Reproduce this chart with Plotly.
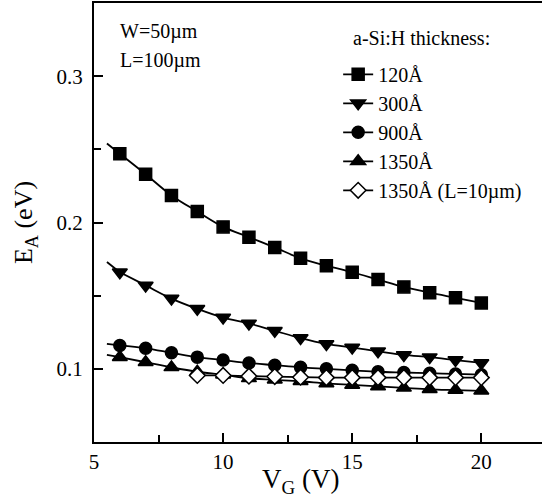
import plotly.graph_objects as go

# Gate voltage (V)
vg = [6, 7, 8, 9, 10, 11, 12, 13, 14, 15, 16, 17, 18, 19, 20]
vg_short = [9, 10, 11, 12, 13, 14, 15, 16, 17, 18, 19, 20]

# Activation energy E_A (eV) for each a-Si:H thickness
ea_120 = [0.247, 0.233, 0.2185, 0.2075, 0.197, 0.190, 0.183, 0.1755, 0.1705,
          0.166, 0.161, 0.156, 0.152, 0.1485, 0.145]
ea_300 = [0.166, 0.157, 0.148, 0.141, 0.135, 0.131, 0.126, 0.121, 0.117,
          0.1145, 0.112, 0.1095, 0.108, 0.106, 0.104]
ea_900 = [0.116, 0.114, 0.111, 0.108, 0.106, 0.104, 0.1025, 0.101, 0.100,
          0.099, 0.098, 0.0975, 0.097, 0.0965, 0.096]
ea_1350 = [0.108, 0.1045, 0.101, 0.098, 0.096, 0.0935, 0.0925, 0.0915, 0.090,
           0.089, 0.088, 0.087, 0.086, 0.0855, 0.085]
ea_1350_l10 = [0.0955, 0.0955, 0.095, 0.0947, 0.0943, 0.094, 0.094, 0.094,
               0.094, 0.094, 0.094, 0.094]

# Fitted curves begin slightly before the first measured point
fit_start_vg = 5.5
fit_start_ea = {"120": 0.254, "300": 0.173, "900": 0.117, "1350": 0.1095}

legend_names = ["120Å", "300Å", "900Å", "1350Å", "1350Å (L=10µm)"]
legend_heading = "a-Si:H thickness:"

FONT = "Times New Roman, Liberation Serif, DejaVu Serif, serif"
BLACK = "#000000"

series = [
    ("120", vg, ea_120, "square", BLACK, 12),
    ("300", vg, ea_300, "triangle-down", BLACK, 13),
    ("900", vg, ea_900, "circle", BLACK, 12),
    ("1350", vg, ea_1350, "triangle-up", BLACK, 13),
    ("1350L", vg_short, ea_1350_l10, "diamond", "white", 12),
]

fig = go.Figure()

for i, (key, xs, ys, sym, fill, msize) in enumerate(series):
    if key in fit_start_ea:
        fig.add_trace(go.Scatter(
            x=[fit_start_vg, xs[0]], y=[fit_start_ea[key], ys[0]],
            mode="lines", line=dict(color=BLACK, width=1.8),
            showlegend=False, hoverinfo="skip",
        ))
    fig.add_trace(go.Scatter(
        x=xs, y=ys, name=legend_names[i], legendgroup=key,
        mode="lines+markers",
        line=dict(color=BLACK, width=1.8, shape="spline"),
        marker=dict(symbol=sym, size=msize, color=fill,
                    line=dict(color=BLACK, width=1.5)),
    ))

for txt, ypos in (("W=50µm", 0.934), ("L=100µm", 0.870)):
    fig.add_annotation(text=txt, x=0.054, y=ypos, xref="paper", yref="paper",
                       xanchor="left", yanchor="middle", showarrow=False,
                       font=dict(family=FONT, size=20, color=BLACK))

# Heading above the legend entries
fig.add_annotation(text=legend_heading, x=0.730, y=0.920,
                   xref="paper", yref="paper", xanchor="center",
                   yanchor="middle", showarrow=False,
                   font=dict(family=FONT, size=20, color=BLACK))

# Horizontal axis title
fig.add_annotation(text="V<sub>G</sub> (V)", x=0.46, y=-0.045,
                   xref="paper", yref="paper", xanchor="center", yanchor="top",
                   showarrow=False,
                   font=dict(family=FONT, size=27, color=BLACK))

axis_common = dict(
    showline=True, linecolor=BLACK, linewidth=2,
    ticks="inside", ticklen=9, tickwidth=1.5, tickcolor=BLACK,
    showgrid=False, zeroline=False,
    tickfont=dict(family=FONT, size=21, color=BLACK),
)

fig.update_layout(
    width=542, height=504,
    margin=dict(l=94, r=0, t=3, b=62),
    paper_bgcolor="white", plot_bgcolor="white",
    font=dict(family=FONT, color=BLACK),
    xaxis=dict(
        range=[5, 22.35], dtick=5, tick0=5, mirror=True,
        minor=dict(ticks="inside", ticklen=7, tickwidth=1.5,
                   tickcolor=BLACK, dtick=2.5, tick0=5),
        **axis_common,
    ),
    yaxis=dict(
        range=[0.05, 0.35], dtick=0.1, tick0=0.1, mirror=False,
        ticklabelstandoff=5,
        title=dict(text="E<sub>A</sub> (eV)", font=dict(family=FONT, size=26),
                   standoff=16),
        minor=dict(ticks="inside", ticklen=7, tickwidth=1.5,
                   tickcolor=BLACK, dtick=0.05, tick0=0.05),
        **axis_common,
    ),
    legend=dict(
        x=0.545, y=0.882, xanchor="left", yanchor="top",
        bgcolor="rgba(0,0,0,0)",
        font=dict(family=FONT, size=20, color=BLACK),
        tracegroupgap=0,
    ),
)

fig.write_html("out.html")
